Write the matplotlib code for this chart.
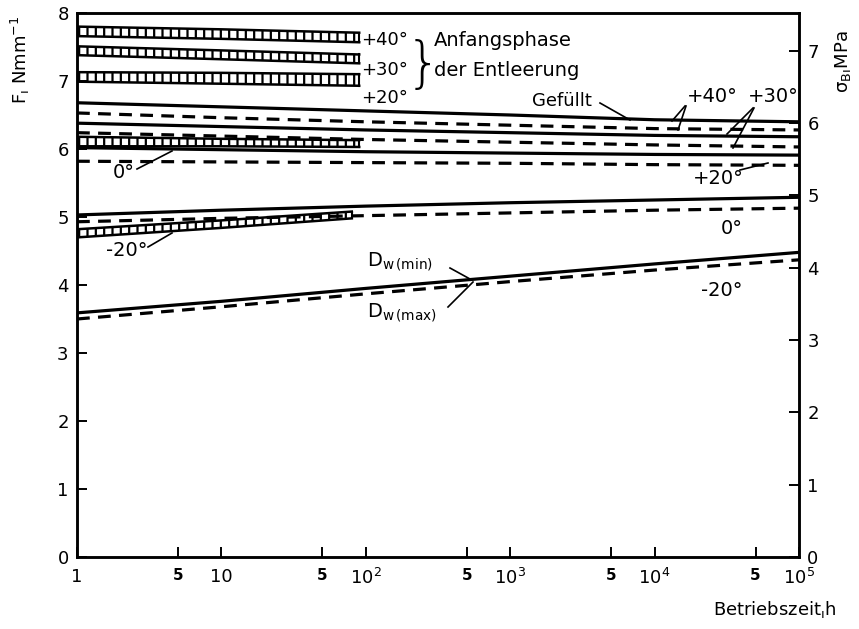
import numpy as np
import matplotlib
matplotlib.use("Agg")
import matplotlib.pyplot as plt
from matplotlib.ticker import FixedLocator, FixedFormatter

plt.rcParams['font.family'] = ['DejaVu Sans']
plt.rcParams['hatch.linewidth'] = 1.6

# operating time, h
t = [1, 10, 100, 1e3, 1e4, 1e5]
# filled state, F in N/mm (solid = D_w(min), dashed = D_w(max))
f_p40_solid = [6.68, 6.62, 6.56, 6.50, 6.43, 6.40]
f_p40_dash = [6.53, 6.46, 6.40, 6.35, 6.30, 6.28]
f_p30_solid = [6.38, 6.33, 6.28, 6.24, 6.20, 6.18]
f_p30_dash = [6.24, 6.19, 6.14, 6.10, 6.06, 6.03]
f_p20_solid = [6.02, 5.99, 5.96, 5.94, 5.92, 5.91]
f_p20_dash = [5.82, 5.81, 5.80, 5.79, 5.77, 5.76]
f_0_solid = [5.03, 5.10, 5.16, 5.21, 5.25, 5.29]
f_0_dash = [4.93, 4.98, 5.02, 5.06, 5.10, 5.13]
f_m20_solid = [3.59, 3.76, 3.95, 4.13, 4.31, 4.48]
f_m20_dash = [3.50, 3.68, 3.87, 4.05, 4.22, 4.37]

# initial emptying phase (hatched bands)
t_band = [1, 10, 90]
t_band_m20 = [1, 10, 80]
band_p40 = ([7.66, 7.62, 7.57], [7.80, 7.76, 7.71])
band_p30 = ([7.38, 7.32, 7.26], [7.51, 7.45, 7.39])
band_p20 = ([6.99, 6.96, 6.93], [7.13, 7.12, 7.10])
band_0 = ([6.04, 6.04, 6.03], [6.18, 6.15, 6.13])
band_m20 = ([4.70, 4.84, 4.98], [4.82, 4.95, 5.08])

xticks = [1, 5, 10, 50, 100, 500, 1e3, 5e3, 1e4, 5e4, 1e5]
xticklabels = ['1', '5', '10', '5', '10$^2$', '5', '10$^3$', '5', '10$^4$', '5', '10$^5$']

fig = plt.figure(figsize=(8.59, 6.29), dpi=100)
ax = fig.add_axes([77/859, 72/629, 722/859, 544/629])
ax.set_xscale('log')
ax.set_xlim(1, 1e5)
ax.set_ylim(0, 8)

lw = 2.3
dash = (4, 2.6)
pairs = [(f_p40_solid, f_p40_dash), (f_p30_solid, f_p30_dash), (f_p20_solid, f_p20_dash),
         (f_0_solid, f_0_dash), (f_m20_solid, f_m20_dash)]
for s, d in pairs:
    ax.plot(t, s, color='black', lw=lw, solid_capstyle='butt')
    ax.plot(t, d, color='black', lw=lw, dashes=dash)

for tb, (lo, hi) in [(t_band, band_p40), (t_band, band_p30), (t_band, band_p20),
                     (t_band, band_0), (t_band_m20, band_m20)]:
    ax.fill_between(tb, lo, hi, facecolor='white', edgecolor='black', hatch='||', lw=0)
    ax.plot(tb, lo, color='black', lw=1.8)
    ax.plot(tb, hi, color='black', lw=1.8)
    ax.plot([tb[-1], tb[-1]], [lo[-1], hi[-1]], color='black', lw=1.5)

# axes styling
for sp in ax.spines.values():
    sp.set_linewidth(1.8)
ax.xaxis.set_major_locator(FixedLocator(xticks))
ax.xaxis.set_major_formatter(FixedFormatter(xticklabels))
ax.xaxis.set_minor_locator(FixedLocator([]))
ax.set_yticks(range(0, 9))
ax.tick_params(axis='both', direction='in', length=7, width=1.4, labelsize=13, pad=6)
ax.tick_params(axis='x', top=False, pad=8)
for lab in ax.get_xticklabels():
    if lab.get_text() == '5':
        lab.set_fontweight('bold')
        lab.set_fontsize(11)

ax2 = ax.twinx()
ax2.set_ylim(0, 7.52)
ax2.set_yticks(range(0, 8))
ax2.tick_params(axis='y', direction='in', length=7, width=1.4, labelsize=13, pad=6)
for sp in ax2.spines.values():
    sp.set_linewidth(1.8)

fig.text(20/859, 1 - 60/629, 'F$_{\\rm ı}$ Nmm$^{-1}$', rotation=90, fontsize=13,
         ha='center', va='center')
fig.text(843/859, 1 - 62/629, 'σ$_{\\rm B}$$_{\\rm ı}$MPa', rotation=90, fontsize=13,
         ha='center', va='center')
fig.text(775/859, 1 - 610/629, 'Betriebszeit$_{\\rm ı}$h', fontsize=13, ha='center', va='center')


def px(x, y):
    # pixel position of the reference picture -> data coordinates
    return 10 ** ((x - 77) / 144.4), (557 - y) / 68.0


fs = 14
for txt, (x, y) in [('+40°', (385, 40)), ('+30°', (385, 70)), ('+20°', (385, 98))]:
    ax.text(*px(x, y), txt, fontsize=13, ha='center', va='center')
ax.text(*px(423, 66), '}', fontsize=40, ha='center', va='center', fontweight='light')
ax.text(*px(434, 40), 'Anfangsphase', fontsize=fs, ha='left', va='center')
ax.text(*px(434, 70), 'der Entleerung', fontsize=fs, ha='left', va='center')

ax.text(*px(562, 101), 'Gefüllt', fontsize=13, ha='center', va='center')
ax.text(*px(712, 97), '+40°', fontsize=fs, ha='center', va='center')
ax.text(*px(773, 97), '+30°', fontsize=fs, ha='center', va='center')
ax.text(*px(718, 178), '+20°', fontsize=fs, ha='center', va='center')
ax.text(*px(732, 229), '0°', fontsize=fs, ha='center', va='center')
ax.text(*px(722, 291), '-20°', fontsize=fs, ha='center', va='center')
ax.text(*px(124, 172), '0°', fontsize=fs, ha='center', va='center')
ax.text(*px(127, 250), '-20°', fontsize=fs, ha='center', va='center')
ax.text(*px(367, 262), 'D$_{\\rm w\\,(min)}$', fontsize=fs, ha='left', va='center')
ax.text(*px(367, 313), 'D$_{\\rm w\\,(max)}$', fontsize=fs, ha='left', va='center')

leaders = [((600, 103), (630, 120)),
           ((685, 106), (672, 121)), ((686, 106), (678, 130)),
           ((753, 108), (727, 134)), ((754, 108), (733, 148)),
           ((740, 170), (768, 163)),
           ((137, 169), (172, 151)),
           ((148, 247), (172, 233)),
           ((450, 268), (470, 279)),
           ((448, 307), (473, 282))]
for a, b in leaders:
    (x0, y0), (x1, y1) = px(*a), px(*b)
    ax.plot([x0, x1], [y0, y1], color='black', lw=1.2)

fig.savefig('out.png', dpi=100)
